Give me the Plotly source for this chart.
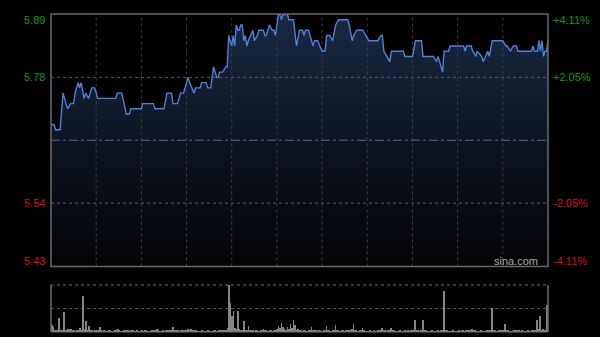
import plotly.graph_objects as go

# ---- data ----
price_minutes = [0, 2, 3, 6, 8, 11, 13, 15, 16, 18, 19, 20, 22, 23, 25, 27, 29, 30, 31, 43,
                 44, 47, 50, 52, 53, 60, 61, 68, 69, 75, 77, 80, 81, 84, 86, 88, 91, 92, 95, 96,
                 99, 100, 103, 104, 106, 108, 110, 111, 112, 114, 116, 117, 118, 120, 121, 122, 123, 124, 125, 126,
                 127, 128, 129, 130, 131, 134, 135, 137, 138, 141, 142, 143, 145, 147, 148, 149, 151, 152, 153, 154,
                 157, 158, 161, 163, 165, 167, 168, 169, 171, 173, 174, 175, 177, 180, 182, 183, 185, 187, 189, 191,
                 197, 198, 200, 201, 203, 207, 209, 211, 217, 219, 220, 221, 225, 226, 234, 235, 240, 242, 246, 247,
                 254, 256, 257, 260, 261, 264, 265, 274, 275, 276, 279, 280, 282, 283, 286, 287, 290, 291, 293, 300,
                 302, 303, 305, 307, 309, 310, 319, 320, 321, 323, 324, 325, 326, 327, 328, 329, 330]
prices = [5.69, 5.69, 5.68, 5.68, 5.75, 5.72, 5.73, 5.73, 5.75, 5.77, 5.76, 5.77, 5.74, 5.75, 5.74, 5.76, 5.76, 5.75, 5.74, 5.74,
          5.75, 5.75, 5.71, 5.71, 5.72, 5.72, 5.73, 5.73, 5.72, 5.72, 5.75, 5.75, 5.73, 5.73, 5.75, 5.75, 5.78, 5.77, 5.75, 5.76,
          5.76, 5.77, 5.77, 5.76, 5.76, 5.80, 5.78, 5.78, 5.79, 5.79, 5.80, 5.80, 5.86, 5.84, 5.86, 5.84, 5.88, 5.87, 5.87, 5.88,
          5.88, 5.85, 5.86, 5.84, 5.85, 5.87, 5.85, 5.86, 5.87, 5.87, 5.86, 5.86, 5.88, 5.87, 5.87, 5.86, 5.90, 5.90, 5.89, 5.90,
          5.90, 5.89, 5.89, 5.84, 5.87, 5.87, 5.86, 5.87, 5.87, 5.85, 5.84, 5.85, 5.85, 5.83, 5.83, 5.86, 5.86, 5.85, 5.88, 5.89,
          5.89, 5.88, 5.85, 5.86, 5.87, 5.87, 5.86, 5.85, 5.85, 5.86, 5.86, 5.83, 5.81, 5.83, 5.83, 5.82, 5.82, 5.85, 5.85, 5.82,
          5.82, 5.81, 5.82, 5.79, 5.83, 5.83, 5.84, 5.84, 5.83, 5.84, 5.84, 5.83, 5.82, 5.83, 5.82, 5.81, 5.83, 5.82, 5.85, 5.85,
          5.84, 5.84, 5.83, 5.84, 5.84, 5.83, 5.83, 5.84, 5.83, 5.83, 5.85, 5.83, 5.85, 5.82, 5.83, 5.83, 5.85]

volumes = [
    73, 50, 20, 15, 12, 140, 15, 12, 197, 20, 15, 30, 30, 30, 25, 12, 10, 15, 20, 40,
    25, 357, 30, 110, 20, 60, 15, 12, 10, 15, 12, 20, 50, 15, 10, 12, 8, 10, 15, 12,
    10, 8, 12, 15, 30, 12, 10, 8, 12, 15, 20, 12, 10, 15, 12, 8, 10, 12, 10, 8,
    12, 10, 15, 12, 10, 8, 10, 12, 15, 20, 30, 15, 10, 8, 12, 10, 15, 12, 20, 25,
    20, 47, 20, 15, 12, 10, 12, 15, 20, 15, 20, 30, 25, 30, 25, 15, 12, 10, 8, 10,
    12, 10, 8, 10, 12, 10, 8, 10, 12, 15, 10, 12, 15, 20, 15, 20, 25, 40, 470, 290,
    160, 207, 40, 30, 207, 30, 25, 20, 110, 25, 20, 57, 15, 20, 12, 10, 15, 12, 10, 15,
    20, 30, 15, 12, 10, 15, 12, 10, 15, 20, 30, 57, 40, 90, 47, 30, 25, 47, 30, 80,
    40, 123, 73, 25, 30, 15, 12, 10, 15, 12, 10, 15, 20, 50, 25, 15, 12, 10, 12, 15,
    10, 12, 15, 57, 15, 12, 10, 12, 20, 73, 20, 12, 10, 12, 15, 10, 15, 20, 25, 20,
    30, 83, 20, 12, 10, 15, 12, 40, 12, 10, 8, 10, 12, 10, 8, 12, 10, 15, 20, 15,
    40, 15, 12, 10, 15, 20, 40, 15, 12, 10, 8, 10, 12, 10, 8, 12, 10, 15, 10, 12,
    15, 20, 117, 15, 12, 10, 20, 117, 15, 12, 10, 8, 10, 12, 10, 8, 10, 12, 10, 15,
    20, 407, 20, 12, 10, 8, 10, 12, 10, 8, 10, 12, 10, 15, 12, 10, 12, 15, 12, 20,
    30, 15, 12, 10, 8, 10, 12, 10, 8, 10, 12, 15, 20, 240, 15, 12, 10, 8, 12, 15,
    12, 20, 80, 15, 12, 10, 8, 10, 12, 15, 12, 20, 10, 12, 10, 8, 10, 12, 10, 8,
    12, 15, 20, 117, 30, 157, 20, 30, 15, 12, 270]
vol_minutes = list(range(len(volumes)))

prev_close = 5.66
left_labels = ["5.89", "5.78", "5.54", "5.43"]
left_values = [5.89, 5.78, 5.54, 5.43]
right_labels = ["+4.11%", "+2.05%", "-2.05%", "-4.11%"]
label_colors = ["#0e9a0e", "#0e9a0e", "#d81010", "#d81010"]
grid_minutes = [30, 60, 90, 120, 150, 180, 210, 240, 270, 300]
grid_prices = [5.54, 5.78]

y_lo, y_hi = 5.419, 5.901
x_lo, x_hi = 0, 330

fig = go.Figure()

# fill area (baseline + filled price area, no line)
fig.add_trace(go.Scatter(
    x=price_minutes, y=[y_lo] * len(price_minutes), mode="lines",
    line=dict(width=0, color="rgba(0,0,0,0)"), hoverinfo="skip", showlegend=False))
fig.add_trace(go.Scatter(
    x=price_minutes, y=prices, mode="lines",
    line=dict(width=0, color="rgba(0,0,0,0)"),
    fill="tonexty",
    fillgradient=dict(type="vertical", start=y_lo, stop=5.90,
                      colorscale=[[0, "#030406"], [0.5, "#0d1522"], [1, "#1a2844"]]),
    hoverinfo="skip", showlegend=False))

# grid lines drawn above the fill, below the price line
for gm in grid_minutes:
    fig.add_trace(go.Scatter(x=[gm, gm], y=[y_lo, y_hi], mode="lines",
                             line=dict(color="#3e3e3e", width=1, dash="dot"),
                             hoverinfo="skip", showlegend=False))
for gp in grid_prices:
    fig.add_trace(go.Scatter(x=[x_lo, x_hi], y=[gp, gp], mode="lines",
                             line=dict(color="#5c5c5c", width=1, dash="dot"),
                             hoverinfo="skip", showlegend=False))
fig.add_trace(go.Scatter(x=[x_lo, x_hi], y=[prev_close, prev_close], mode="lines",
                         line=dict(color="#5f6773", width=1, dash="dashdot"),
                         hoverinfo="skip", showlegend=False))

# price line
fig.add_trace(go.Scatter(
    x=price_minutes, y=prices, mode="lines",
    line=dict(color="#4d82d6", width=1.4),
    showlegend=False))

# volume bars
fig.add_trace(go.Bar(
    x=vol_minutes, y=volumes, marker=dict(color="#858585", line=dict(width=0)),
    width=0.55, showlegend=False, xaxis="x2", yaxis="y2"))

main_dom = [1 - (266.5 - 14) / 318, 1.0]
vol_dom = [0.0, (332 - 285) / 318]

fig.update_layout(
    width=600, height=337,
    margin=dict(l=51, r=52, t=14, b=5),
    paper_bgcolor="#000000", plot_bgcolor="#000000",
    bargap=0,
    xaxis=dict(domain=[0, 1], range=[x_lo, x_hi], showticklabels=False, zeroline=False,
               showgrid=False, ticks="", showline=False),
    yaxis=dict(domain=main_dom, range=[y_lo, y_hi], showticklabels=False, zeroline=False,
               showgrid=False, ticks="", showline=False),
    xaxis2=dict(domain=[0, 1], range=[-0.5, 330.5], anchor="y2", showticklabels=False,
                zeroline=False, showgrid=False, ticks="", showline=False),
    yaxis2=dict(domain=vol_dom, range=[0, 470], showticklabels=False, zeroline=False,
                tickvals=[235], showgrid=True, gridcolor="#5a5a5a", griddash="dot",
                anchor="x2", ticks="", showline=False),
)

shapes = []
shapes.append(dict(type="rect", xref="x domain", yref="y domain", x0=0, x1=1, y0=0, y1=1,
                   line=dict(color="#6a6a6a", width=1.5), layer="above"))
shapes.append(dict(type="line", xref="x2 domain", yref="y2 domain", x0=0, x1=0, y0=0, y1=1,
                   line=dict(color="#6a6a6a", width=1.5)))
shapes.append(dict(type="line", xref="x2 domain", yref="y2 domain", x0=1, x1=1, y0=0, y1=1,
                   line=dict(color="#6a6a6a", width=1.5)))
shapes.append(dict(type="line", xref="x2 domain", yref="y2 domain", x0=0, x1=1, y0=1, y1=1,
                   line=dict(color="#6a6a6a", width=1, dash="dot")))
shapes.append(dict(type="line", xref="x2 domain", yref="y2 domain", x0=0, x1=1, y0=0, y1=0,
                   line=dict(color="#6a6a6a", width=1)))
fig.update_layout(shapes=shapes)

annotations = []
for lab, val, col in zip(left_labels, left_values, label_colors):
    annotations.append(dict(xref="paper", yref="y", x=0, y=val, text=lab, showarrow=False,
                            xanchor="right", yanchor="middle", xshift=-4,
                            font=dict(family="Liberation Sans, Arial", size=11, color=col)))
for lab, val, col in zip(right_labels, left_values, label_colors):
    annotations.append(dict(xref="paper", yref="y", x=1, y=val, text=lab, showarrow=False,
                            xanchor="left", yanchor="middle", xshift=3,
                            font=dict(family="Liberation Sans, Arial", size=11, color=col)))
annotations.append(dict(xref="x domain", yref="y domain", x=0.984, y=0.0, text="sina.com",
                        showarrow=False, xanchor="right", yanchor="bottom", yshift=-2,
                        font=dict(family="Liberation Sans, Arial", size=11, color="#a8a8a8")))
fig.update_layout(annotations=annotations)

fig.write_html("out.html")
